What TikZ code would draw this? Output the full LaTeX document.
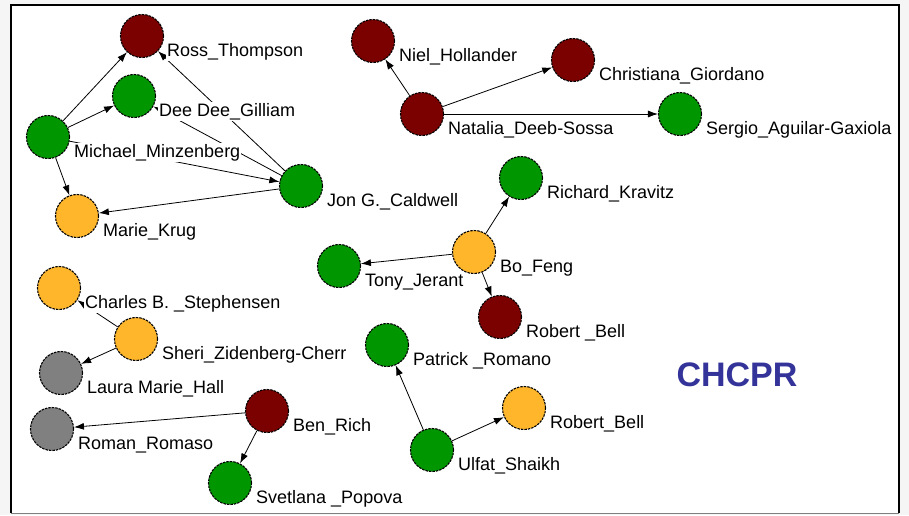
\documentclass[tikz,border=0pt]{standalone}
\usepackage{fontspec}
\setmainfont{Liberation Sans}
\usepackage{xcolor}
\usetikzlibrary{positioning,arrows.meta}
\definecolor{redn}{HTML}{7B0000}
\definecolor{grn}{HTML}{009600}
\definecolor{orng}{HTML}{FFB62B}
\definecolor{gry}{HTML}{808080}
\definecolor{chblue}{HTML}{333399}
\definecolor{bgg}{HTML}{F5F5F5}
\tikzstyle{who}= [circle, draw, dash pattern=on 2.5pt off 1pt, line width=1.1pt, inner sep=0pt, minimum size=43pt]
\tikzstyle{tag}= [anchor=base west, inner sep=1pt, fill=white, font=\fontsize{18}{20}\selectfont]
\tikzstyle{lnk}= [-{Latex[length=10pt,width=7pt]}, line width=0.8pt]

\begin{document}
\begin{tikzpicture}[x=1pt, y=-1pt]
				\useasboundingbox (0,0) rectangle (909,515);
				\fill[bgg] (0,0) rectangle (909,515);
				\fill[white] (11,5) rectangle (899,513);
				\draw[line width=2.5pt] (11,513) -- (11,5) -- (899,5) -- (899,513);
				\draw[gry, line width=1pt] (11,513.5) -- (899,513.5);
				
				\node[who, fill=redn] (ross) at (142, 36) {};
				\node[who, fill=grn] (dee) at (134, 96) {};
				\node[who, fill=grn] (michael) at (48, 137) {};
				\node[who, fill=orng] (marie) at (77, 216) {};
				\node[who, fill=grn] (jon) at (301, 186) {};
				\node[who, fill=redn] (niel) at (373, 41) {};
				\node[who, fill=redn] (christiana) at (573, 60) {};
				\node[who, fill=redn] (natalia) at (422, 114) {};
				\node[who, fill=grn] (sergio) at (680, 114) {};
				\node[who, fill=grn] (richard) at (521, 178) {};
				\node[who, fill=orng] (bo) at (474, 252) {};
				\node[who, fill=grn] (tony) at (339, 266) {};
				\node[who, fill=redn] (robertr) at (500, 317) {};
				\node[who, fill=orng] (charles) at (59, 288) {};
				\node[who, fill=orng] (sheri) at (136, 339) {};
				\node[who, fill=gry] (laura) at (61, 373) {};
				\node[who, fill=gry] (roman) at (52, 429) {};
				\node[who, fill=redn] (ben) at (267, 411) {};
				\node[who, fill=grn] (svetlana) at (230, 483) {};
				\node[who, fill=grn] (patrick) at (387, 345) {};
				\node[who, fill=orng] (roberto) at (524, 408) {};
				\node[who, fill=grn] (ulfat) at (432, 450) {};
				
				\draw[lnk] (michael) -- (ross);
				\draw[lnk] (michael) -- (dee);
				\draw[lnk] (michael) -- (marie);
				\draw[lnk] (michael) -- (jon);
				\draw[lnk] (jon) -- (ross);
				\draw[lnk] (jon) -- (dee);
				\draw[lnk] (jon) -- (marie);
				\draw[lnk] (natalia) -- (niel);
				\draw[lnk] (natalia) -- (christiana);
				\draw[lnk] (natalia) -- (sergio);
				\draw[lnk] (bo) -- (richard);
				\draw[lnk] (bo) -- (tony);
				\draw[lnk] (bo) -- (robertr);
				\draw[lnk] (sheri) -- (charles);
				\draw[lnk] (sheri) -- (laura);
				\draw[lnk] (ben) -- (roman);
				\draw[lnk] (ben) -- (svetlana);
				\draw[lnk] (ulfat) -- (patrick);
				\draw[lnk] (ulfat) -- (roberto);
				
				% names
				\node[tag] (rossT) at ([shift={(24,20.5)}]ross) {Ross\_Thompson};
				\node[tag] (deeT) at ([shift={(24,20.5)}]dee) {Dee Dee\_Gilliam};
				\node[tag] (michaelT) at ([shift={(25,20.5)}]michael) {Michael\_Minzenberg};
				\node[tag] (marieT) at ([shift={(25,20.5)}]marie) {Marie\_Krug};
				\node[tag] (jonT) at ([shift={(25,20.5)}]jon) {Jon G.\_Caldwell};
				\node[tag] (nielT) at ([shift={(25,20.5)}]niel) {Niel\_Hollander};
				\node[tag] (christianaT) at ([shift={(25,20.5)}]christiana) {Christiana\_Giordano};
				\node[tag] (nataliaT) at ([shift={(25,20.5)}]natalia) {Natalia\_Deeb-Sossa};
				\node[tag] (sergioT) at ([shift={(25,20.5)}]sergio) {Sergio\_Aguilar-Gaxiola};
				\node[tag] (richardT) at ([shift={(25,20.5)}]richard) {Richard\_Kravitz};
				\node[tag] (boT) at ([shift={(25,20.5)}]bo) {Bo\_Feng};
				\node[tag] (tonyT) at ([shift={(25,20.5)}]tony) {Tony\_Jerant};
				\node[tag] (robertrT) at ([shift={(25,20.5)}]robertr) {Robert \_Bell};
				\node[tag] (charlesT) at ([shift={(25,20.5)}]charles) {Charles B. \_Stephensen};
				\node[tag] (sheriT) at ([shift={(25,20.5)}]sheri) {Sheri\_Zidenberg-Cherr};
				\node[tag] (lauraT) at ([shift={(25,20.5)}]laura) {Laura Marie\_Hall};
				\node[tag] (romanT) at ([shift={(25,20.5)}]roman) {Roman\_Romaso};
				\node[tag] (benT) at ([shift={(25,20.5)}]ben) {Ben\_Rich};
				\node[tag] (svetlanaT) at ([shift={(25,20.5)}]svetlana) {Svetlana \_Popova};
				\node[tag] (patrickT) at ([shift={(25,20.5)}]patrick) {Patrick \_Romano};
				\node[tag] (robertoT) at ([shift={(25,20.5)}]roberto) {Robert\_Bell};
				\node[tag] (ulfatT) at ([shift={(25,20.5)}]ulfat) {Ulfat\_Shaikh};
				
				\node[text=chblue, font=\fontsize{34}{36}\selectfont\bfseries] (chcpr) at (737, 375) {CHCPR};
			\end{tikzpicture}
\end{document}
